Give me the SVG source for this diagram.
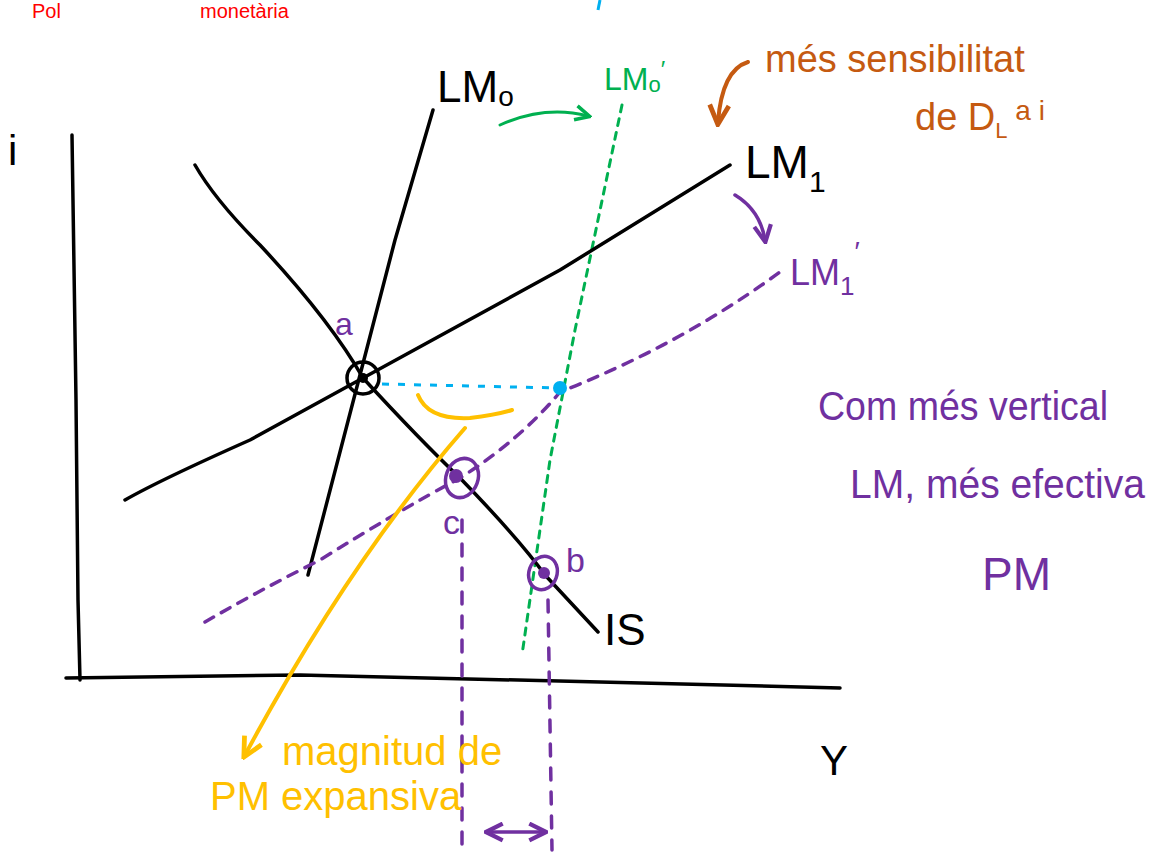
<svg xmlns="http://www.w3.org/2000/svg" width="1160" height="855" viewBox="0 0 1160 855">
<defs>
<style>
.k{fill:none;stroke:#000;stroke-width:3.5;stroke-linecap:round;stroke-linejoin:round}
.t{font-family:"Liberation Sans",Arial,sans-serif}
.pu{fill:#7030a0}
.pus{fill:none;stroke:#7030a0;stroke-width:3.5;stroke-linecap:round}
.gr{fill:none;stroke:#00b050;stroke-width:3;stroke-linecap:round}
.or{fill:none;stroke:#ffc000;stroke-width:4;stroke-linecap:round}
.br{fill:none;stroke:#c55a11;stroke-width:4;stroke-linecap:round}
</style>
<marker id="ag" viewBox="0 0 10 10" refX="8" refY="5" markerWidth="6" markerHeight="6" orient="auto-start-reverse"><path d="M1,1 L9,5 L1,9" fill="none" stroke="#00b050" stroke-width="2"/></marker>
<marker id="ap" viewBox="0 0 10 10" refX="8" refY="5" markerWidth="6" markerHeight="6" orient="auto-start-reverse"><path d="M1,1 L9,5 L1,9" fill="none" stroke="#7030a0" stroke-width="2"/></marker>
<marker id="ao" viewBox="0 0 10 10" refX="8" refY="5" markerWidth="6" markerHeight="6" orient="auto"><path d="M1,1 L9,5 L1,9" fill="none" stroke="#ffc000" stroke-width="2"/></marker>
<marker id="ab" viewBox="0 0 10 10" refX="8" refY="5" markerWidth="6" markerHeight="6" orient="auto"><path d="M1,1 L9,5 L1,9" fill="none" stroke="#c55a11" stroke-width="2"/></marker>
</defs>
<rect width="1160" height="855" fill="#fff"/>
<g id="header">
<text class="t" x="32" y="18" font-size="20" fill="#ff0000">Pol</text>
<text class="t" x="200" y="18" font-size="20" fill="#ff0000">monetària</text>
<path d="M600,0 L598,10" stroke="#00b0f0" stroke-width="3" fill="none"/>
</g>
<g id="axes">
<path class="k" d="M72,135 L76,400 L78,600 L80,680"/>
<path class="k" d="M66,678 L300,675 L600,682 L840,688"/>
<text class="t" x="8" y="165" font-size="42">i</text>
<text class="t" x="820" y="775" font-size="42">Y</text>
</g>
<g id="connectors">
<path class="k" d="M433,110 L395,240 L360,375 L308,575"/>
<path class="gr" stroke-dasharray="7,7" d="M622,105 L575,330 L550,460 L522,655"/>
<path class="gr" d="M500,125 Q545,105 588,116" marker-end="url(#ag)"/>
<path class="k" d="M125,500 Q160,480 250,440 L363,378 Q450,330 560,270 L730,165"/>
<path class="pus" stroke-dasharray="10,9" stroke-width="3" d="M205,622 Q260,590 320,560 Q400,510 460,478 Q520,440 560,392 Q680,345 780,272"/>
<path class="pus" d="M735,195 Q760,210 765,240" marker-end="url(#ap)"/>
<path class="k" d="M195,165 Q215,200 260,245 Q330,320 363,378 Q420,440 460,478 Q520,540 545,575 L598,632"/>
<path d="M382,384 L560,388" stroke="#00b0f0" stroke-width="3" stroke-dasharray="7,9" fill="none"/>
<path class="or" d="M418,395 Q428,420 470,418 Q495,415 512,410"/>
<path class="or" d="M465,428 Q350,560 245,755" marker-end="url(#ao)"/>
<path class="pus" stroke-width="3" stroke-dasharray="12,12" d="M462,520 L462,850"/>
<path class="pus" stroke-width="3" stroke-dasharray="12,12" d="M548,600 L552,850"/>
<path class="pus" d="M488,832 L544,832" marker-start="url(#ap)" marker-end="url(#ap)"/>
<path class="br" d="M748,62 Q722,70 718,122" marker-end="url(#ab)"/>
</g>
<g id="labels">
<text class="t" x="437" y="102" font-size="44">LM<tspan font-size="28" dy="4">o</tspan></text>
<text class="t" x="604" y="90" font-size="32" fill="#00b050">LM<tspan font-size="22" dy="2">o</tspan><tspan dy="-14" font-size="24">′</tspan></text>
<text class="t" x="745" y="178" font-size="46">LM<tspan font-size="30" dy="14">1</tspan></text>
<text class="t" x="790" y="285" font-size="36" fill="#7030a0">LM<tspan font-size="26" dy="10">1</tspan><tspan dy="-34" font-size="28">′</tspan></text>
<text class="t" x="604" y="645" font-size="44">IS</text>
</g>
<g id="point-a">
<circle cx="363" cy="378" r="16" fill="none" stroke="#000" stroke-width="3.5"/>
<circle cx="363" cy="378" r="5"/>
<text class="t pu" x="335" y="335" font-size="32">a</text>
</g>
<g id="point-blue"><circle cx="560" cy="388" r="7" fill="#00b0f0"/></g>
<g id="point-c">
<ellipse cx="462" cy="478" rx="16" ry="20" transform="rotate(20 462 478)" fill="none" stroke="#7030a0" stroke-width="3.5"/>
<circle cx="456" cy="476" r="7" fill="#7030a0"/>
<text class="t pu" x="443" y="534" font-size="34">c</text>
</g>
<g id="point-b">
<ellipse cx="543" cy="573" rx="14" ry="17" transform="rotate(20 543 573)" fill="none" stroke="#7030a0" stroke-width="3.5"/>
<circle cx="544" cy="573" r="6" fill="#7030a0"/>
<text class="t pu" x="566" y="572" font-size="34">b</text>
</g>
<g id="note-brown" fill="#c55a11">
<text class="t" x="765" y="72" font-size="38">més sensibilitat</text>
<text class="t" x="915" y="130" font-size="38">de D<tspan font-size="22" dy="8">L</tspan><tspan dy="-18" font-size="28"> a i</tspan></text>
</g>
<g id="note-purple" fill="#7030a0">
<text class="t" x="818" y="420" font-size="40" textLength="290" lengthAdjust="spacingAndGlyphs">Com més vertical</text>
<text class="t" x="850" y="498" font-size="40" textLength="295" lengthAdjust="spacingAndGlyphs">LM, més efectiva</text>
<text class="t" x="982" y="590" font-size="46">PM</text>
</g>
<g id="note-orange" fill="#ffc000">
<text class="t" x="282" y="765" font-size="40">magnitud de</text>
<text class="t" x="210" y="810" font-size="40">PM expansiva</text>
</g>
</svg>
